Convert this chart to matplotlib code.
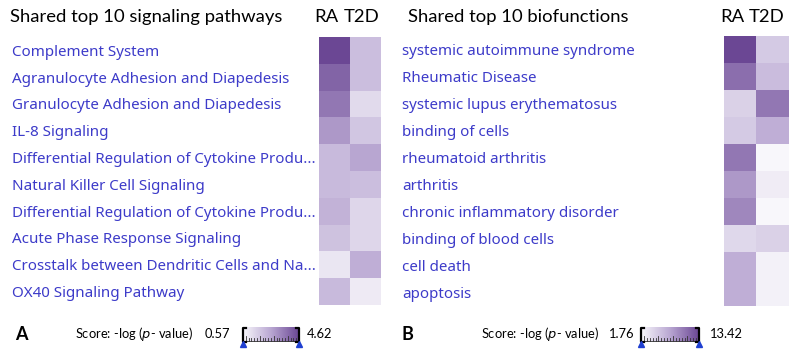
import numpy as np
import matplotlib
matplotlib.use('Agg')
from matplotlib import pyplot as plt
from matplotlib.colors import LinearSegmentedColormap, Normalize
from matplotlib.transforms import blended_transform_factory

pathways = [
    'Complement System',
    'Agranulocyte Adhesion and Diapedesis',
    'Granulocyte Adhesion and Diapedesis',
    'IL-8 Signaling',
    'Differential Regulation of Cytokine Produ...',
    'Natural Killer Cell Signaling',
    'Differential Regulation of Cytokine Produ...',
    'Acute Phase Response Signaling',
    'Crosstalk between Dendritic Cells and Na...',
    'OX40 Signaling Pathway',
]
pathway_ra = [4.62, 4.0, 3.6, 2.9, 2.1, 2.1, 2.3, 1.9, 1.0, 2.1]
pathway_t2d = [2.0, 2.0, 1.3, 1.8, 2.6, 2.0, 1.4, 1.4, 2.4, 0.9]
pathway_range = (0.57, 4.62)

biofunctions = [
    'systemic autoimmune syndrome',
    'Rheumatic Disease',
    'systemic lupus erythematosus',
    'binding of cells',
    'rheumatoid arthritis',
    'arthritis',
    'chronic inflammatory disorder',
    'binding of blood cells',
    'cell death',
    'apoptosis',
]
bio_ra = [13.42, 11.0, 4.5, 5.0, 10.5, 8.5, 9.5, 4.0, 7.0, 7.0]
bio_t2d = [5.0, 6.0, 10.5, 7.0, 1.76, 2.5, 1.8, 4.5, 2.2, 2.2]
bio_range = (1.76, 13.42)

columns = ['RA', 'T2D']

cmap = LinearSegmentedColormap.from_list('ipa', ['#f8f7fb', '#b9a7d2', '#6b4794'])
W, H = 800, 359
fig = plt.figure(figsize=(W / 100, H / 100), dpi=100)
plt.rcParams['font.family'] = ['Lato', 'DejaVu Sans']


def px_axes(x0, y0, x1, y1):
    return fig.add_axes([x0 / W, 1 - y1 / H, (x1 - x0) / W, (y1 - y0) / H])


def heat_panel(box, labels, ra, t2d, vrange, label_x, title, title_x, col_x):
    ax = px_axes(*box)
    data = np.array([ra, t2d]).T
    ax.imshow(data, cmap=cmap, norm=Normalize(*vrange), aspect='auto',
              interpolation='nearest')
    ax.set_axis_off()
    tr = blended_transform_factory(fig.transFigure, ax.transData)
    for i, lab in enumerate(labels):
        ax.text(label_x / W, i, lab, transform=tr, ha='left', va='center_baseline',
                fontsize=10.9, color='#3d3bc9', family=['Noto Sans', 'DejaVu Sans'])
    fig.text(title_x / W, 1 - 17 / H, title, ha='left', va='center', fontsize=13.3)
    fig.text(col_x[0] / W, 1 - 17 / H, columns[0], ha='center', va='center', fontsize=13.3)
    fig.text(col_x[1] / W, 1 - 17 / H, columns[1], ha='center', va='center', fontsize=13.3)


def score_bar(letter, letter_x, score_x, lo_x, bar, hi_x, vrange):
    yc = 1 - 334 / H
    fig.text(letter_x / W, yc, letter, ha='left', va='center', fontsize=13, weight='bold')
    fig.text(score_x / W, yc, 'Score: -log ($\\it{p}$- value)', ha='left',
             va='center', fontsize=9.3)
    fig.text(lo_x / W, yc, f'{vrange[0]:.2f}', ha='left', va='center', fontsize=9.3)
    fig.text(hi_x / W, yc, f'{vrange[1]:.2f}', ha='left', va='center', fontsize=9.3)
    cax = px_axes(*bar)
    grad = np.linspace(0, 1, 100)[None, :]
    cax.imshow(grad, cmap=cmap, aspect='auto', extent=(0, 1, 0, 1))
    cax.set_xlim(0, 1)
    cax.set_ylim(0, 1)
    cax.set_xticks([])
    cax.set_yticks([])
    for s in cax.spines.values():
        s.set_visible(False)
    # ruler marks
    for k, t in enumerate(np.linspace(0.05, 0.95, 19)):
        h = 0.35 if k % 5 == 0 else 0.2
        cax.plot([t, t], [0.05, 0.05 + h], color='#333333', lw=0.6)
    cax.plot([0.03, 0.97], [0.05, 0.05], color='#333333', lw=0.6)
    # end brackets + blue sliders
    for x, d in ((0.0, 1), (1.0, -1)):
        cax.plot([x + d * 0.05, x, x, x + d * 0.05], [0.95, 0.95, 0.0, 0.0],
                 color='black', lw=1.6, clip_on=False)
        cax.plot([x], [-0.12], marker='^', color='#1f3fd0',
                 markersize=3.8, clip_on=False)


heat_panel((319, 37, 381, 305), pathways, pathway_ra, pathway_t2d, pathway_range,
           12, 'Shared top 10 signaling pathways', 10, (326, 362))
heat_panel((724, 36, 789, 306), biofunctions, bio_ra, bio_t2d, bio_range,
           402, 'Shared top 10 biofunctions', 408, (732, 767))

score_bar('A', 15, 75, 205, (243, 327, 299, 342), 307, pathway_range)
score_bar('B', 402, 481, 609, (641, 327, 699, 342), 710, bio_range)

fig.savefig('out.png', dpi=100)
